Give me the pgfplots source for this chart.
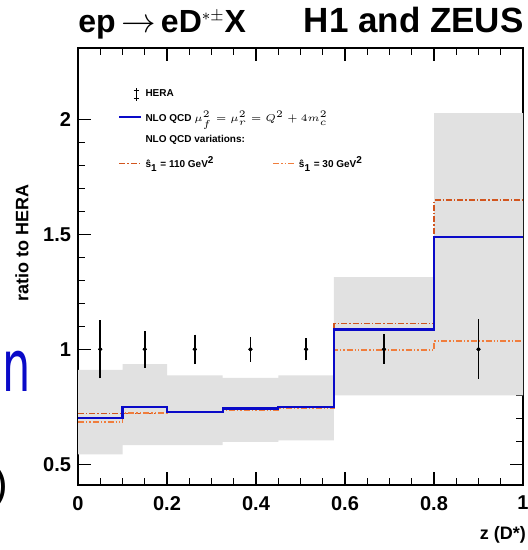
\documentclass[border=0pt]{standalone}
\usepackage{pgfplots}
\pgfplotsset{compat=1.18}
\usepackage{fontspec}
\setmainfont{Liberation Sans}
\newfontfamily\dejavu{DejaVu Sans}

\definecolor{bandgray}{RGB}{225,225,225}
\definecolor{nloblue}{RGB}{10,10,200}
\definecolor{varA}{RGB}{210,85,30}
\definecolor{varB}{RGB}{240,125,60}

\begin{document}
\begin{tikzpicture}
\path[use as bounding box] (0,0) rectangle (263.5pt,275pt);

\begin{axis}[
    at={(39pt,32.5pt)}, anchor=south west,
    scale only axis, width=222.5pt, height=218.5pt,
    xmin=0, xmax=1, ymin=0.41, ymax=2.31,
    xtick={0,0.2,0.4,0.6,0.8,1}, ytick={0.5,1,1.5,2},
    minor x tick num=3, minor y tick num=4,
    tick align=inside,
    major tick length=6.5pt, minor tick length=3.5pt,
    every tick/.style={black, line width=0.7pt},
    axis line style={line width=1pt},
    tick label style={font=\bfseries\fontsize{10}{12}\selectfont},
    /pgf/number format/assume math mode=true,
    xticklabel style={yshift=-2pt},
    xlabel={z (D*)},
    every axis x label/.style={at={(axis description cs:0.955,-0.114)}, anchor=center,
        font=\bfseries\fontsize{9}{11}\selectfont},
    ylabel={ratio to HERA},
    every axis y label/.style={at={(axis description cs:-0.126,0.554)}, rotate=90, anchor=center,
        font=\bfseries\fontsize{9}{11}\selectfont},
    legend columns=2,
    legend cell align=left,
    legend style={at={(axis description cs:0.09,0.915)}, anchor=north west,
        draw=none, fill=none, inner sep=0pt,
        font=\bfseries\fontsize{5}{6}\selectfont,
        /tikz/every even column/.append style={column sep=27pt},
        row sep=1.6pt},
    legend image code/.code={\draw[#1] (0cm,0cm) -- (0.37cm,0cm);},
]

% NLO uncertainty band
\addplot[fill=bandgray, draw=none, forget plot] coordinates {
  (0,0.91)(0.1,0.91)(0.1,0.935)(0.2,0.935)(0.2,0.887)(0.325,0.887)
  (0.325,0.876)(0.45,0.876)(0.45,0.887)(0.575,0.887)(0.575,1.314)(0.8,1.314)
  (0.8,2.027)(1.0,2.027)
  (1.0,0.80)(0.8,0.80)(0.575,0.80)(0.575,0.604)(0.45,0.604)(0.45,0.597)
  (0.325,0.597)(0.325,0.583)(0.2,0.583)(0.1,0.583)(0.1,0.543)(0,0.543)} -- cycle;

% variations
\addplot[const plot, varA, line width=0.8pt, dash pattern=on 3pt off 1pt on 0.7pt off 1pt, forget plot] coordinates {
  (0,0.720)(0.1,0.720)(0.2,0.730)(0.325,0.740)(0.45,0.750)(0.575,1.112)(0.8,1.648)(1.0,1.648)};
\addplot[const plot, varB, line width=0.8pt, dash pattern=on 3pt off 1pt on 0.7pt off 1pt on 0.7pt off 1pt, forget plot] coordinates {
  (0,0.684)(0.1,0.722)(0.2,0.725)(0.325,0.735)(0.45,0.745)(0.575,0.996)(0.8,1.035)(1.0,1.035)};

% central NLO
\addplot[const plot, nloblue, line width=1.1pt, forget plot] coordinates {
  (0,0.703)(0.1,0.749)(0.2,0.729)(0.325,0.743)(0.45,0.750)(0.575,1.086)(0.8,1.488)(1.0,1.488)};

% HERA data, total errors
\addplot[black, only marks, mark=*, mark size=0.8pt, forget plot,
  error bars/.cd, y dir=both, y explicit, error mark=none,
  error bar style={line width=0.8pt}] coordinates {
  (0.05,1) +- (0,0.120)
  (0.15,1) +- (0,0.080)
  (0.2625,1) +- (0,0.062)
  (0.3875,1) +- (0,0.053)
  (0.5125,1) +- (0,0.047)
  (0.6875,1) +- (0,0.065)
  (0.9,1) +- (0,0.130)};
% HERA data, inner errors
\addplot[black, only marks, mark=*, mark size=0.8pt, forget plot,
  error bars/.cd, y dir=both, y explicit,
  error mark options={black, mark size=3pt, line width=0.8pt},
  error bar style={line width=0.8pt}] coordinates {
  (0.05,1) +- (0,0.100)
  (0.15,1) +- (0,0.050)
  (0.2625,1) +- (0,0.038)
  (0.3875,1) +- (0,0.028)
  (0.5125,1) +- (0,0.022)
  (0.6875,1) +- (0,0.020)
  (0.9,1) +- (0,0.080)};

% legend
\addlegendimage{legend image code/.code={
  \draw[black, line width=0.6pt] (0.3cm,-0.11cm) -- (0.3cm,0.11cm);
  \draw[black, line width=0.6pt] (0.25cm,0.07cm) -- (0.35cm,0.07cm);
  \draw[black, line width=0.6pt] (0.25cm,-0.07cm) -- (0.35cm,-0.07cm);}}
\addlegendentry{HERA}
\addlegendimage{empty legend}\addlegendentry{}
\addlegendimage{nloblue, line width=1pt}
\addlegendentry{\rlap{NLO QCD $\mu_f^2 = \mu_r^2 = Q^2 + 4m_c^2$}}
\addlegendimage{empty legend}\addlegendentry{}
\addlegendimage{legend image code/.code={}}
\addlegendentry{\rlap{NLO QCD variations:}}
\addlegendimage{empty legend}\addlegendentry{}
\addlegendimage{varA, line width=0.7pt, dash pattern=on 3pt off 1pt on 0.7pt off 1pt}
\addlegendentry{ŝ\textsubscript{1} = 110 GeV\textsuperscript{2}}
\addlegendimage{varB, line width=0.7pt, dash pattern=on 3pt off 1pt on 0.7pt off 1pt on 0.7pt off 1pt}
\addlegendentry{ŝ\textsubscript{1} = 30 GeV\textsuperscript{2}}
\end{axis}

\node[anchor=base west, inner sep=0pt, font=\bfseries\fontsize{16}{19}\selectfont]
  at (39pt,258.5pt) {ep\,$\rightarrow$\,eD$^{\scriptscriptstyle *\pm}$X};
\node[anchor=base east, inner sep=0pt, font=\bfseries\fontsize{17.5}{20}\selectfont]
  at (262pt,258.5pt) {H1 and ZEUS};
\node[anchor=base west, inner sep=0pt, text=nloblue, xscale=0.62, font=\dejavu\fontsize{36}{40}\selectfont]
  at (1pt,79pt) {n};
\node[anchor=east, inner sep=0pt, font=\fontsize{22}{24}\selectfont]
  at (4.5pt,31.5pt) {)};
\end{tikzpicture}
\end{document}
